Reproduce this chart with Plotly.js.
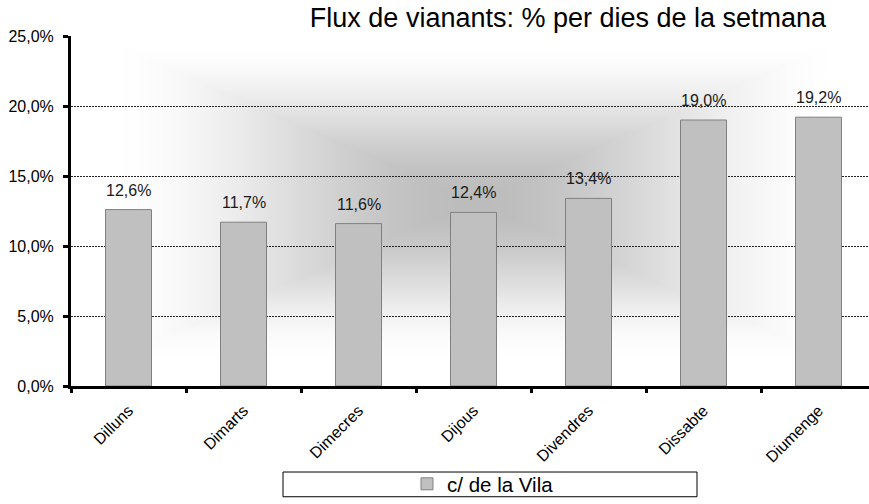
<!DOCTYPE html>
<html>
<head>
<meta charset="utf-8">
<script src="https://cdn.plot.ly/plotly-3.0.1.min.js"></script>
<style>html,body{margin:0;padding:0;background:#fff;}#chart{width:869px;height:504px;}</style>
</head>
<body>
<div id="chart"></div>
<script>
// Data
const days = ["Dilluns", "Dimarts", "Dimecres", "Dijous", "Divendres", "Dissabte", "Diumenge"];
const shares = [12.6, 11.7, 11.6, 12.4, 13.4, 19.0, 19.2];
const seriesName = "c/ de la Vila";
const yTicks = [0, 5, 10, 15, 20, 25];
const yTickText = ["0,0%", "5,0%", "10,0%", "15,0%", "20,0%", "25,0%"];
const shareLabels = ["12,6%", "11,7%", "11,6%", "12,4%", "13,4%", "19,0%", "19,2%"];

const W = 869, H = 504;
const M = {l: 71, r: 0, t: 36, b: 114};
const plotW = W - M.l - M.r, plotH = H - M.t - M.b;
const catPx = 115; // pixel width of one category in the original (plot cut at right edge)
const xMax = -0.5 + plotW / catPx;

// Background: rectangular "from centre" grey gradient over full (uncropped) plot area
function makeGradient() {
  const c = document.createElement('canvas');
  c.width = plotW; c.height = plotH;
  const ctx = c.getContext('2d');
  const img = ctx.createImageData(plotW, plotH);
  const fullW = 7 * catPx;
  const cx = fullW / 2, cy = plotH / 2 - 10;
  const hw = fullW / 2, hh = plotH / 2;
  const g0 = 188, g1 = 255;
  for (let y = 0; y < plotH; y++) {
    for (let x = 0; x < plotW; x++) {
      const t = Math.max(Math.abs(x - cx) / hw, Math.abs(y - cy) / hh);
      let s = Math.min(1, t / 0.92);
      s = s * s * (3 - 2 * s);
      const v = Math.round(g0 + (g1 - g0) * s);
      const i = (y * plotW + x) * 4;
      img.data[i] = v; img.data[i+1] = v; img.data[i+2] = v; img.data[i+3] = 255;
    }
  }
  ctx.putImageData(img, 0, 0);
  return c.toDataURL('image/png');
}

const font = "Liberation Sans, Arial, sans-serif";

const trace = {
  type: 'bar',
  x: days,
  y: shares,
  name: seriesName,
  marker: {color: '#c0c0c0', line: {color: '#808080', width: 1}},
  showlegend: true,
  hoverinfo: 'skip'
};

const labelAnnotations = days.map((d, i) => ({
  x: d, y: shares[i], xref: 'x', yref: 'y',
  text: shareLabels[i], showarrow: false,
  yanchor: 'bottom', yshift: 9,
  font: {family: font, size: 16, color: '#1a1a1a'}
}));

const layout = {
  width: W, height: H,
  margin: M,
  paper_bgcolor: '#ffffff',
  plot_bgcolor: 'rgba(0,0,0,0)',
  font: {family: font, color: '#000'},
  bargap: 0.6,
  title: {
    text: 'Flux de vianants: % per dies de la setmana',
    font: {family: font, size: 27, color: '#000'},
    x: 568 / W, xref: 'container', xanchor: 'center',
    y: 1 - 18 / H, yref: 'container', yanchor: 'middle'
  },
  xaxis: {
    type: 'category',
    range: [-0.5, xMax],
    showline: true, linecolor: '#000', linewidth: 3,
    ticks: 'outside', tickson: 'boundaries', ticklen: 4, tickwidth: 3, tickcolor: '#000',
    tickangle: -45,
    ticklabelstandoff: 6,
    tickfont: {family: font, size: 16, color: '#000'},
    showgrid: false, zeroline: false, fixedrange: true
  },
  yaxis: {
    range: [0, 25],
    tickvals: yTicks,
    ticktext: yTickText,
    showline: true, linecolor: '#000', linewidth: 3,
    ticks: 'outside', ticklen: 5, tickwidth: 3, tickcolor: '#000',
    ticklabelstandoff: 6,
    tickfont: {family: font, size: 16, color: '#000'},
    showgrid: true, gridcolor: '#222', gridwidth: 1, griddash: '2px,1px',
    zeroline: false, fixedrange: true
  },
  legend: {
    orientation: 'h',
    x: (483 - M.l) / plotW, xanchor: 'center',
    y: (plotH + M.t - 489.5) / plotH, yanchor: 'middle',
    bgcolor: 'rgba(0,0,0,0)', borderwidth: 0,
    font: {family: font, size: 20.5, color: '#000'},
    itemwidth: 30
  },
  annotations: labelAnnotations,
  shapes: [{
    type: 'rect', xref: 'paper', yref: 'paper',
    x0: (283 - M.l) / plotW, x1: (697 - M.l) / plotW,
    y0: (plotH + M.t - 477) / plotH, y1: (plotH + M.t - 502) / plotH,
    line: {color: '#000', width: 1}, fillcolor: '#fff', layer: 'below'
  }],
  images: [{
    source: makeGradient(),
    xref: 'paper', yref: 'paper', x: 0, y: 1, sizex: 1, sizey: 1,
    xanchor: 'left', yanchor: 'top', sizing: 'stretch', layer: 'below'
  }]
};

Plotly.newPlot('chart', [trace], layout, {displayModeBar: false, staticPlot: true});
</script>
</body>
</html>
